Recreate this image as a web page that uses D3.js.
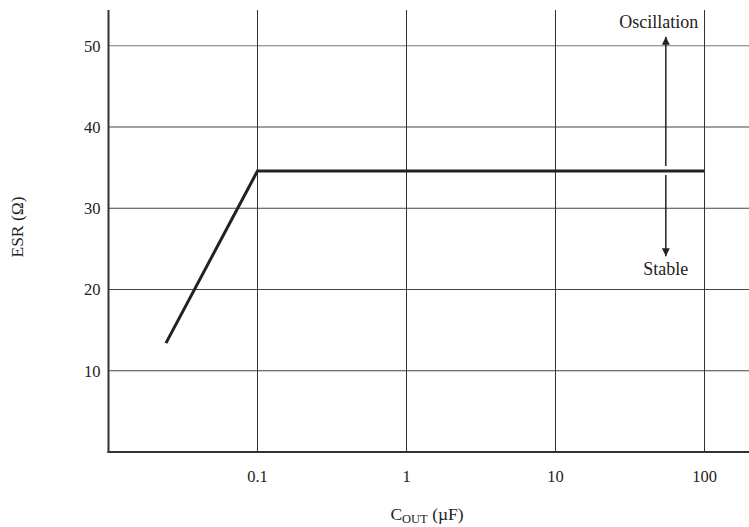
<!DOCTYPE html>
<html>
<head>
<meta charset="utf-8">
<script src="https://cdn.jsdelivr.net/npm/d3@7"></script>
<style>
  body { margin: 0; background: #fff; }
  svg text { font-family: "Liberation Serif", "DejaVu Serif", serif; fill: #222; }
</style>
</head>
<body>
<div id="chart"></div>
<script>
// données
const xTicks = [0.1, 1, 10, 100];
const yTicks = [10, 20, 30, 40, 50];
const capUF = [0.0243, 0.1, 100];     // C_OUT (µF)
const esrOhm = [13.4, 34.6, 34.6];    // ESR (Ω)

// flèches Oscillation / Stable
const arrowC = 55;
const arrowUp = [35.2, 51.1];
const arrowDown = [34.1, 24.1];
const labelOsc = 52.2;
const labelStable = 21.8;

const width = 749;
const height = 527;
const margin = { top: 10, right: 0, bottom: 75, left: 108.5 };

const svg = d3.select("#chart")
  .append("svg")
    .attr("width", width)
    .attr("height", height);

// échelles : 0.01 -> axe, une décade = 149 px
const x = d3.scaleLog()
  .domain([0.01, 100])
  .range([margin.left, margin.left + 4 * 149]);

const y = d3.scaleLinear()
  .domain([0, 54.4])
  .range([452, margin.top]);

// grille horizontale
svg.selectAll(".hgrid")
  .data(yTicks)
  .enter()
  .append("line")
    .attr("x1", margin.left).attr("x2", width)
    .attr("y1", d => y(d)).attr("y2", d => y(d))
    .attr("stroke", d => d === 50 ? "#777" : "#444")
    .attr("stroke-width", 1);

// grille verticale
svg.selectAll(".vgrid")
  .data(xTicks)
  .enter()
  .append("line")
    .attr("x1", d => x(d)).attr("x2", d => x(d))
    .attr("y1", margin.top).attr("y2", y(0))
    .attr("stroke", "#333")
    .attr("stroke-width", 1);

// axes (trait épais)
svg.append("line")
  .attr("x1", margin.left).attr("x2", margin.left)
  .attr("y1", margin.top).attr("y2", y(0) + 1)
  .attr("stroke", "#333")
  .attr("stroke-width", 2);

svg.append("line")
  .attr("x1", margin.left - 1).attr("x2", width)
  .attr("y1", y(0)).attr("y2", y(0))
  .attr("stroke", "#333")
  .attr("stroke-width", 2);

// étiquettes des graduations
svg.selectAll(".ylab")
  .data(yTicks)
  .enter()
  .append("text")
    .attr("x", margin.left - 8)
    .attr("y", d => y(d))
    .attr("dy", "0.35em")
    .attr("text-anchor", "end")
    .attr("font-size", 16.5)
    .text(d => d);

svg.selectAll(".xlab")
  .data(xTicks)
  .enter()
  .append("text")
    .attr("x", d => x(d))
    .attr("y", 482)
    .attr("text-anchor", "middle")
    .attr("font-size", 16.5)
    .text(d => d3.format("~g")(d));

// titres des axes
const xt = svg.append("text")
  .attr("x", 427)
  .attr("y", 520)
  .attr("text-anchor", "middle")
  .attr("font-size", 17.5);
xt.append("tspan").text("C");
xt.append("tspan").attr("font-size", 12.5).attr("dy", 3).text("OUT");
xt.append("tspan").attr("dy", -3).text(" (µF)");

svg.append("text")
  .attr("transform", "translate(23,227) rotate(-90)")
  .attr("text-anchor", "middle")
  .attr("font-size", 17.5)
  .text("ESR (Ω)");

// courbe limite
const line = d3.line()
  .x(d => x(d[0]))
  .y(d => y(d[1]));

svg.append("path")
  .datum(d3.zip(capUF, esrOhm))
  .attr("d", line)
  .attr("fill", "none")
  .attr("stroke", "#222")
  .attr("stroke-width", 3);

// flèches
svg.append("defs").append("marker")
  .attr("id", "head")
  .attr("viewBox", "0 0 10 10")
  .attr("refX", 10).attr("refY", 5)
  .attr("markerWidth", 12).attr("markerHeight", 8)
  .attr("markerUnits", "userSpaceOnUse")
  .attr("orient", "auto")
  .append("path")
    .attr("d", "M0,0 L10,5 L0,10 Z")
    .attr("fill", "#222");

[arrowUp, arrowDown].forEach(([from, to]) => {
  svg.append("line")
    .attr("x1", x(arrowC)).attr("x2", x(arrowC))
    .attr("y1", y(from)).attr("y2", y(to))
    .attr("stroke", "#222")
    .attr("stroke-width", 1.5)
    .attr("marker-end", "url(#head)");
});

svg.append("text")
  .attr("x", x(arrowC) - 7)
  .attr("y", y(labelOsc))
  .attr("text-anchor", "middle")
  .attr("font-size", 18)
  .text("Oscillation");

svg.append("text")
  .attr("x", x(arrowC))
  .attr("y", y(labelStable))
  .attr("text-anchor", "middle")
  .attr("font-size", 18)
  .text("Stable");
</script>
</body>
</html>
